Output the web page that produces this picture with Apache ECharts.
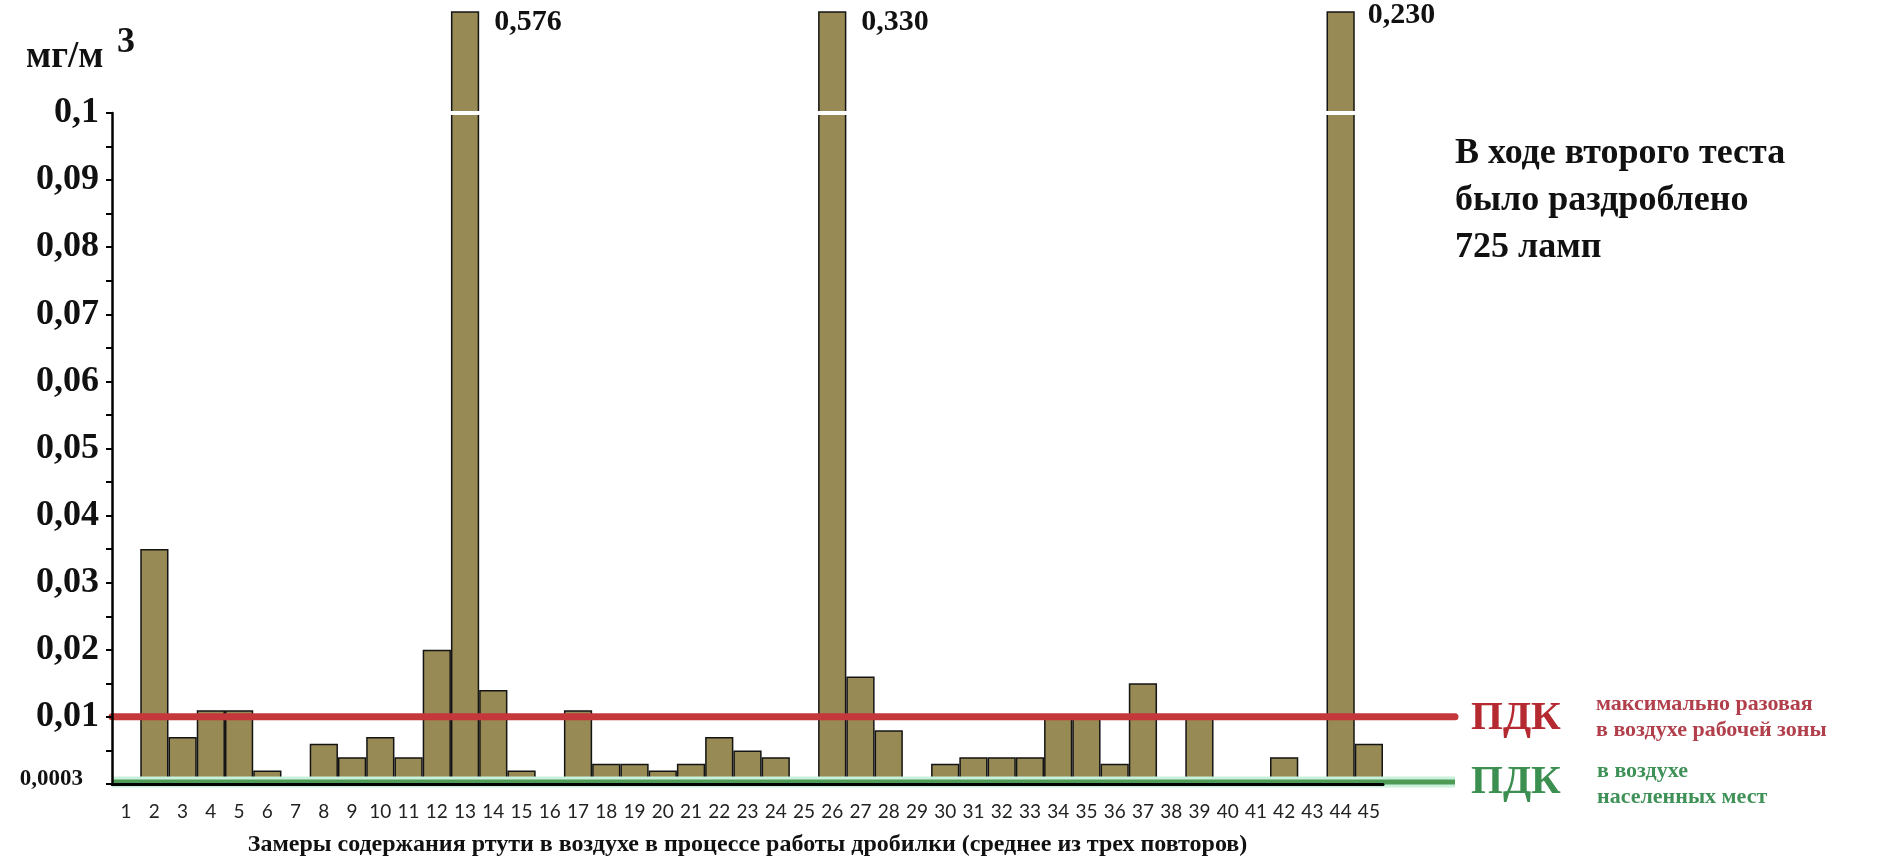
<!DOCTYPE html>
<html>
<head>
<meta charset="utf-8">
<script src="https://cdn.jsdelivr.net/npm/echarts@6/dist/echarts.min.js"></script>
<style>
html,body{margin:0;padding:0;background:#fff;}
#chart{width:1886px;height:857px;}
</style>
</head>
<body>
<div id="chart"></div>
<script>
// ---- data ----
const categories = ['1','2','3','4','5','6','7','8','9','10','11','12','13','14','15','16','17','18','19','20',
  '21','22','23','24','25','26','27','28','29','30','31','32','33','34','35','36','37','38','39','40',
  '41','42','43','44','45'];
const mercury = [0, 0.035, 0.007, 0.011, 0.011, 0.002, 0, 0.006, 0.004, 0.007,
  0.004, 0.02, 0.576, 0.014, 0.002, 0, 0.011, 0.003, 0.003, 0.002,
  0.003, 0.007, 0.005, 0.004, 0, 0.33, 0.016, 0.008, 0, 0.003,
  0.004, 0.004, 0.004, 0.01, 0.01, 0.003, 0.015, 0, 0.01, 0,
  0, 0.004, 0, 0.23, 0.006];
const limitWorkZone = 0.01;      // ПДК максимально разовая в воздухе рабочей зоны
const limitResidential = 0.0003; // ПДК в воздухе населенных мест
const yTicksMax = 0.1;
const yTickStep = 0.01;

const unitText = 'мг/м';
const unitSup = '3';
const xTitle = 'Замеры содержания ртути в воздухе в процессе работы дробилки (среднее из трех повторов)';
const noteText = 'В ходе второго теста\nбыло раздроблено\n725 ламп';
const redLabel = 'ПДК';
const redNote = 'максимально разовая\nв воздухе рабочей зоны';
const greenLabel = 'ПДК';
const greenNote = 'в воздухе\nнаселенных мест';

// ---- layout / style ----
const barsMax = 0.115;     // visible top of the broken bars
const breakAt = 0.1007;    // white gap marking the axis break
const SERIF = '"Liberation Serif", "Times New Roman", serif';
const fmt = v => parseFloat(v.toFixed(4)).toString().replace('.', ',');
const fmt3 = v => v.toFixed(3).replace('.', ',');
const labelOffsets = {43: [13, -11]};

const chart = echarts.init(document.getElementById('chart'), null, {renderer: 'canvas'});

const barData = mercury.map((v, i) => {
  const item = {value: v};
  if (labelOffsets[i]) item.label = {offset: labelOffsets[i]};
  return item;
});

const option = {
  animation: false,
  backgroundColor: '#ffffff',
  title: [
    {text: unitText, left: 21, top: 34, textStyle: {fontFamily: SERIF, fontWeight: 'bold', fontSize: 37, color: '#111'}},
    {text: unitSup, left: 112, top: 20, textStyle: {fontFamily: SERIF, fontWeight: 'bold', fontSize: 36, color: '#111'}},
    {text: noteText, left: 1450, top: 125, textStyle: {fontFamily: SERIF, fontWeight: 'bold', fontSize: 36, lineHeight: 47, color: '#111'}},
    {text: redLabel, left: 1466, top: 693, textStyle: {fontFamily: SERIF, fontWeight: 'bold', fontSize: 41, color: '#b52a30'}},
    {text: redNote, left: 1591, top: 686, textStyle: {fontFamily: SERIF, fontWeight: 'bold', fontSize: 22, lineHeight: 26, color: '#b2404c'}},
    {text: greenLabel, left: 1466, top: 757, textStyle: {fontFamily: SERIF, fontWeight: 'bold', fontSize: 41, color: '#3b8f50'}},
    {text: greenNote, left: 1592, top: 753, textStyle: {fontFamily: SERIF, fontWeight: 'bold', fontSize: 22, lineHeight: 26, color: '#3f9157'}}
  ],
  grid: [
    {left: 112, right: 503, top: 12, bottom: 73, containLabel: false, outerBoundsMode: 'none'},
    {left: 112, right: 503, top: 113, bottom: 73, containLabel: false, outerBoundsMode: 'none'},
    {left: 112, right: 431, top: 12, bottom: 73, containLabel: false, outerBoundsMode: 'none'}
  ],
  xAxis: [
    {gridIndex: 0, type: 'category', data: categories, show: false},
    {gridIndex: 1, type: 'category', data: categories, z: 5,
      axisLine: {lineStyle: {color: '#000', width: 3}},
      axisTick: {length: 6, lineStyle: {color: '#000', width: 2.5}},
      axisLabel: {interval: 0, margin: 18, color: '#222', fontFamily: 'Lato', fontSize: 19},
      name: xTitle, nameLocation: 'middle', nameGap: 49,
      nameTextStyle: {fontFamily: SERIF, fontWeight: 'bold', fontSize: 24, color: '#111'}
    },
    {gridIndex: 2, type: 'value', min: 0, max: 1, show: false}
  ],
  yAxis: [
    {gridIndex: 0, type: 'value', min: 0, max: barsMax, show: false},
    {gridIndex: 1, type: 'value', min: 0, max: yTicksMax, interval: yTickStep, z: 5,
      axisLine: {show: true, lineStyle: {color: '#000', width: 2.5}},
      axisTick: {show: true, length: 6, lineStyle: {color: '#000', width: 2}},
      minorTick: {show: true, splitNumber: 2, length: 6, lineStyle: {color: '#000', width: 2}},
      splitLine: {show: false},
      axisLabel: {
        margin: 13, color: '#111', fontFamily: SERIF, fontWeight: 'bold', fontSize: 36,
        formatter: v => v === 0 ? '{s|' + fmt(limitResidential) + '}' : fmt(v),
        rich: {s: {fontFamily: SERIF, fontWeight: 'bold', fontSize: 23, color: '#111', padding: [0, 16, 9, 0]}}
      }
    },
    {gridIndex: 2, type: 'value', min: 0, max: barsMax, show: false}
  ],
  series: [
    {
      type: 'bar', xAxisIndex: 0, yAxisIndex: 0, data: barData,
      barWidth: '100%', barCategoryGap: 0, clip: true, z: 2,
      itemStyle: {color: '#978a55', borderColor: '#141414', borderWidth: 1.5},
      label: {
        show: true, position: ['100%', 0], offset: [15, -4],
        fontFamily: SERIF, fontWeight: 'bold', fontSize: 30, color: '#111',
        formatter: p => p.value > barsMax ? fmt3(p.value) : ''
      },
      markLine: {
        silent: true, symbol: 'none', label: {show: false},
        lineStyle: {color: '#ffffff', width: 4, type: 'solid', opacity: 1},
        data: [{yAxis: breakAt}]
      }
    },
    {
      type: 'line', xAxisIndex: 2, yAxisIndex: 2, z: 3, symbol: 'none', silent: true,
      data: [[0, limitResidential], [1, limitResidential]],
      lineStyle: {color: '#c8f0dc', width: 11}
    },
    {
      type: 'line', xAxisIndex: 2, yAxisIndex: 2, z: 4, symbol: 'none', silent: true,
      data: [[0, limitResidential], [1, limitResidential]],
      lineStyle: {color: '#4f9b56', width: 5}
    },
    {
      type: 'line', xAxisIndex: 2, yAxisIndex: 2, z: 4, symbol: 'none', silent: true,
      data: [[0, limitWorkZone], [1, limitWorkZone]],
      lineStyle: {color: '#c4373b', width: 7, cap: 'round'}
    }
  ]
};
chart.setOption(option);
</script>
</body>
</html>
